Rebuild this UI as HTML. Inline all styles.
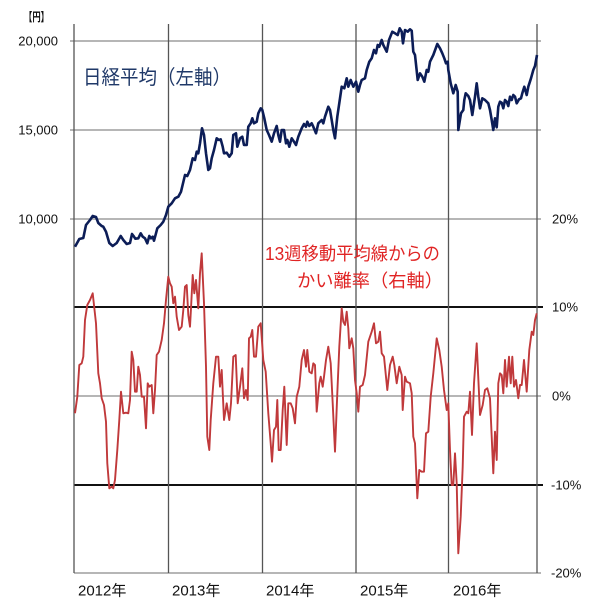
<!DOCTYPE html>
<html><head><meta charset="utf-8"><style>
html,body{margin:0;padding:0;background:#fff;}
svg{display:block;}
text{font-family:"Liberation Sans","Noto Sans CJK JP",sans-serif;}
</style></head><body>
<svg width="600" height="608" viewBox="0 0 600 608" xmlns="http://www.w3.org/2000/svg">
<rect width="600" height="608" fill="#fff"/>
<!-- horizontal grid -->
<g stroke="#8a8a8a" stroke-width="1.2" fill="none">
<line x1="70" y1="41" x2="541" y2="41"/>
<line x1="70" y1="130" x2="541" y2="130"/>
<line x1="70" y1="219" x2="541" y2="219"/>
<line x1="74" y1="396" x2="541" y2="396"/>
<line x1="74" y1="573" x2="541" y2="573"/>
</g>
<g stroke="#111" stroke-width="2" fill="none">
<line x1="74" y1="307" x2="543" y2="307"/>
<line x1="74" y1="485" x2="543" y2="485"/>
</g>
<!-- vertical grid -->
<g stroke="#555" stroke-width="1.3" fill="none">
<line x1="74" y1="24" x2="74" y2="573"/>
<line x1="168.5" y1="24" x2="168.5" y2="573"/>
<line x1="262.5" y1="24" x2="262.5" y2="573"/>
<line x1="356" y1="24" x2="356" y2="573"/>
<line x1="448.5" y1="24" x2="448.5" y2="573"/>
<line x1="537" y1="24" x2="537" y2="573"/>
</g>
<!-- Nikkei -->
<polyline fill="none" stroke="#0c1d57" stroke-width="2.6" stroke-linejoin="round" points="75,246.7 79.3,239 83.3,238 86,225 90,220 92.7,216 96,217 98.3,223 101.7,226 103.3,226.7 106,231.7 109.3,243 112.7,246 116.7,243 120.7,236 123.3,240 126.7,244 130,243 132,234 134,236.7 135.3,238.7 138.3,238.3 140.7,233.3 142.7,236.7 145,238.3 147.3,243.3 149.3,236 151,238.3 152.7,236.7 154,240.7 156,233.3 157.3,228.3 160.7,225 163.3,221.7 166,215 168.3,206.7 171.7,203.3 175,198.3 178.3,196.7 181,191.7 185,175 187.3,176 190,170 192.7,158.3 195,160 196.7,151.7 198.3,153.3 200,143.3 202,128.3 204,135 206,153.3 208.3,170 210,168.3 211.7,158.3 214,150 216.7,138.3 219,140 220.7,139.3 222.7,146.7 224,153.3 226.7,152.7 229.3,156.7 231.7,153.3 233.3,135 236,133.3 237.3,146.7 240,138.3 242.3,136.7 244,145 246.7,145 248.3,126.7 250.7,123.3 252.3,118.3 254,123.3 256.7,121.7 258.3,113.3 260.7,108.3 262.3,110 264.3,118.3 266.7,130 269,135 271.7,141.7 274,133.3 276.7,126 278.3,135 280,141.7 281.7,130 284,130 286,143.3 287.3,140 289.3,146.7 291.7,138.3 294,141.7 296,145 298.3,136.7 301.7,128.3 304,124 306,126.7 307.3,121.7 309.3,126 311.7,123.3 313.3,126.7 316,133.3 318.3,123.3 321.7,120 323.3,123.3 325,116.7 328.3,106.7 330,110 331.7,120 333.3,130 335,138.3 337.3,116.7 340,98.3 341.7,86.7 344.3,88.3 346.7,78.3 348.3,86.7 350.7,80 353.3,86.7 356,81.7 358.3,91.7 360,85 361.7,80 365,78.3 366.7,70 369.3,61.7 371.7,58.3 374,50 376,53.3 377.7,45 379.3,46.7 381.7,40 383.3,45 385,48.3 386.7,51.7 389,40 392.3,31.7 395,33.3 397.7,35 399.7,28.3 401.7,31.7 403,43.3 405,30 407.7,31.7 410,29.3 411.7,30.7 413.3,51.7 415,55 417.7,80 420,73.3 422.3,76.7 424.3,81.7 426.7,70 428.3,71.7 430,61.7 433.3,55 437.3,44 440,48.3 442.3,53.3 444.3,58.3 446,63.3 447.7,61.7 448.3,70 450.7,83.3 453.3,93.3 455.7,85 457.7,91.7 458.3,130 461,113.3 463.3,110 464.3,100 465.7,93.3 468.3,96 470,100 472.3,115 475,96.7 476.7,83.3 478.3,96.7 480,108.3 482.3,98.3 485,100 488.3,103.3 490,110 491.7,120 493.3,130 495,118.3 496.7,127.3 498.3,106.7 500,101.7 501.7,102.7 503.3,108.3 505,100 506.7,101.7 508.3,106 510,96.7 511.7,100 513.3,95 515,96.7 516.7,103.3 519,99.3 521,98.3 522.3,93.3 524.3,86.7 526.7,95 528.3,86.7 531,78.3 533.3,70 535,66 537,55"/>
<!-- deviation -->
<polyline fill="none" stroke="#c0393b" stroke-width="1.9" stroke-linejoin="round" points="75,413.3 77.3,396.7 79.3,365 81.7,363.3 83.3,356.7 85,320 87.3,305 90,300 92.7,293.3 96,323.3 98.3,373.3 100,383.3 101.7,398.3 104,405 106,421.7 107.3,463.3 109.3,488.3 111.7,486.7 113.3,488.3 115,480 117.3,450 119.3,420 121,391.7 123.3,413.3 126,412.7 128.3,413.3 130,400 131.7,351.7 133.3,360 135,391.7 136.7,391.7 138.3,366.7 140,375 141.7,396.7 144,396.7 146,428.3 147.7,383.3 149.3,386.7 151.7,385 153.3,413.3 155,390 156.7,355 159,351.7 161.7,340 164,323.3 166,300 168.3,276.7 170,283.3 171.7,286.7 173.3,303.3 175,296.7 176.7,316.7 179,330 181.7,326.7 183.3,310 185,286.7 186.7,285 188.3,315 190,326.7 191,308.3 192.7,275 194.3,293.3 196,280 198.3,308.3 200,273.3 201.7,253.3 204,303.3 206,366.7 207.3,436.7 209.3,450 210.7,420 213.3,383.3 216,356.7 218.3,356.7 220,386.7 221.7,370 224,420 226.7,403.3 229.3,420 231,403.3 233.3,356.7 235.7,355 237.7,403.3 240,386.7 242.3,368.3 244,398.3 246,390 247.7,400 249,338.3 250.7,336.7 252.3,330 254,356.7 256,356.7 258.3,326.7 260.7,323.3 263.3,360 265.7,371.7 268.3,413.3 270.7,443.3 272,461.7 274,430 276,426.7 277.3,400 278.7,450 280.7,450 282.7,410 284.3,386.7 286.7,445 288.3,403.3 290.7,403.3 292.7,408.3 295,423.3 296.7,396.7 299.3,386.7 301.7,360 304,350 306,366.7 307.3,350 309.3,371.7 311.7,373.3 313.3,363.3 315,365 316.7,411.7 319.3,383.3 320.7,376.7 322.7,386.7 324,376.7 326,360 328.3,346.7 330.7,363.3 332.7,403.3 335,451.7 337.3,393.3 339.3,346.7 341.7,308.3 343.3,321.7 345,325 346.7,311.7 348.3,328.3 349.3,348.3 351.7,338.3 353.3,348.3 355,380 356.7,393.3 358.3,411.7 360,386.7 362.7,385 365,375 368.3,341.7 371.7,331.7 374,323.3 376,343.3 378.3,341.7 380,331.7 381.7,353.3 384,356.7 387.3,390 390,365 392.7,356.7 394.3,365 396.7,383.3 399.3,366.7 401.7,375 402.7,410 405,376.7 406.7,381.7 410,383.3 411.7,393.3 413.3,436.7 415,443.3 417.3,498.3 419.3,470 421.7,471.7 424,471.7 426,433.3 428.3,431.7 430.7,396.7 433.3,373.3 436.7,338.3 439.3,350 441.7,366.7 444,390 446.7,410 448.3,403.3 450,450 451.7,485 453.3,485 455,453.3 456.7,483.3 458.3,553.3 460.7,516.7 462.7,466.7 464,416.7 466.7,411.7 468.3,413.3 470,391.7 472,435 474,383.3 476.7,343.3 480,415 482.7,405 485,390 487.3,388.3 490,398.3 491.7,436.7 493.3,473.3 495,431.7 496.7,460 498.3,383.3 500,373.3 501.7,375 503.3,393.3 505,360 506.7,386.7 509,356.7 510.7,383.3 512.3,356.7 514,386.7 516,380 518.3,398.3 520,385 521.7,385 524,360 526.7,391.7 529.3,350 531.7,331.7 533.3,335 535,320 536.7,313.3"/>
<!-- labels -->
<g fill="#111">
<text x="24" y="21" font-size="12" font-weight="bold" textLength="25" lengthAdjust="spacingAndGlyphs">【円】</text>
<g font-size="13" text-anchor="end">
<text x="58" y="45.5">20,000</text>
<text x="58" y="134.5">15,000</text>
<text x="58" y="223.5">10,000</text>
</g>
<g font-size="13">
<text x="552" y="223.5">20%</text>
<text x="552" y="311.5">10%</text>
<text x="552" y="400.5">0%</text>
<text x="551" y="489.5">-10%</text>
<text x="551" y="577.5">-20%</text>
</g>
<g font-size="15">
<text x="78" y="595.5">2012年</text>
<text x="172" y="595.5">2013年</text>
<text x="266" y="595.5">2014年</text>
<text x="360" y="595.5">2015年</text>
<text x="453" y="595.5">2016年</text>
</g>
</g>
<text x="83" y="84" font-size="20" fill="#1f3868" textLength="148" lengthAdjust="spacingAndGlyphs">日経平均（左軸）</text>
<text x="265" y="260" font-size="18" fill="#e02424" textLength="175" lengthAdjust="spacingAndGlyphs">13週移動平均線からの</text>
<text x="297" y="287" font-size="18" fill="#e02424" textLength="146" lengthAdjust="spacingAndGlyphs">かい離率（右軸）</text>
</svg>
</body></html>
